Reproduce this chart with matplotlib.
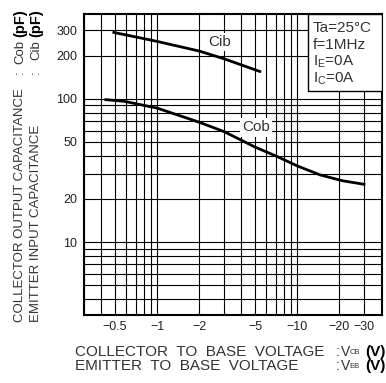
import matplotlib
matplotlib.use("Agg")
import matplotlib.pyplot as plt
from matplotlib.patches import Rectangle
from matplotlib.ticker import FixedLocator, LogLocator, NullFormatter

plt.rcParams['font.family'] = ['Liberation Sans', 'DejaVu Sans']

# capacitance curves, |V| in volts, C in pF
cib_v = [0.49, 0.7, 1.0, 2.0, 3.0, 5.4]
cib_c = [290, 270, 251, 215, 190, 155]
cob_v = [0.43, 0.58, 1.0, 2.0, 3.0, 5.0, 7.2, 10, 14.6, 21, 30]
cob_c = [98.5, 96, 86, 68.5, 59, 46, 39.5, 34, 29.4, 26.8, 25.3]

x_ticks = [0.5, 1, 2, 5, 10, 20, 30]
x_ticklabels = ['\u22120.5', '\u22121', '\u22122', '\u22125', '\u221210', '\u221220', '\u221230']
y_ticks = [10, 20, 50, 100, 200, 300]
y_ticklabels = ['10', '20', '50', '100', '200', '300']

cond_lines = ['Ta=25\u00b0C', 'f=1MHz', r'I$_\mathregular{E}$=0A', r'I$_\mathregular{C}$=0A']

W, H = 386, 383
fig = plt.figure(figsize=(W / 100, H / 100), dpi=100)
TXT = '#333333'


def fx(x):
    return x / W


def fy(y):
    return 1 - y / H


ax = fig.add_axes([fx(84), fy(315), fx(381.5) - fx(84), fy(14) - fy(315)])
ax.set_xscale('log')
ax.set_yscale('log')
ax.set_xlim(0.3, 40)
ax.set_ylim(3.1, 390)

ax.xaxis.set_major_locator(FixedLocator(x_ticks))
ax.set_xticklabels(x_ticklabels)
ax.yaxis.set_major_locator(FixedLocator(y_ticks))
ax.set_yticklabels(y_ticklabels)
ax.xaxis.set_minor_locator(LogLocator(base=10, subs=range(1, 10), numticks=20))
ax.yaxis.set_minor_locator(LogLocator(base=10, subs=range(1, 10), numticks=20))
ax.xaxis.set_minor_formatter(NullFormatter())
ax.yaxis.set_minor_formatter(NullFormatter())
ax.tick_params(which='both', length=0, labelsize=9, labelcolor='#222222')
ax.tick_params(axis='x', pad=4)
ax.tick_params(axis='y', pad=5)
ax.grid(which='both', color='black', lw=0.8)
ax.set_axisbelow(True)
for s in ax.spines.values():
    s.set_linewidth(1.5)

ax.plot(cib_v, cib_c, color='black', lw=2, zorder=3)
ax.plot(cob_v, cob_c, color='black', lw=2, zorder=3)

box = dict(facecolor='white', edgecolor='none', pad=1.5)
ax.text(2.8, 250, 'Cib', fontsize=11, color=TXT, ha='center', va='center', bbox=box, zorder=4)
ax.text(5.1, 63, 'Cob', fontsize=11, color=TXT, ha='center', va='center', bbox=box, zorder=4)

# condition box in the upper right corner
ax.add_patch(Rectangle((fx(308), fy(91)), fx(381.5) - fx(308), fy(14) - fy(91),
                       transform=fig.transFigure, facecolor='white',
                       edgecolor='black', lw=1, zorder=5))
for i, s in enumerate(cond_lines):
    fig.text(fx(313), fy(28 + i * 17), s, fontsize=11, color=TXT,
             ha='left', va='center', zorder=6)

# x axis title, two lines with aligned colons
xl = [('COLLECTOR  TO  BASE  VOLTAGE', 'CB', 352), ('EMITTER  TO  BASE  VOLTAGE', 'EB', 366)]
for main, sub, y in xl:
    fig.text(fx(75), fy(y), main, fontsize=11, color=TXT, ha='left', va='center')
    fig.text(fx(336), fy(y), ':', fontsize=10, color=TXT, ha='left', va='center')
    fig.text(fx(341), fy(y), 'V', fontsize=10, color=TXT, ha='left', va='center')
    fig.text(fx(349.5), fy(y + 1), sub, fontsize=5.5, color=TXT, ha='left', va='center')
    fig.text(fx(386), fy(y), '(V)', fontsize=11, fontweight='bold', color='black',
             ha='right', va='center')

# y axis title, two rotated lines with aligned colons
yl = [('COLLECTOR OUTPUT CAPACITANCE', 'Cob', 20, 64), ('EMITTER INPUT CAPACITANCE', 'Cib', 36, 60)]
for main, sym, x, ysym in yl:
    fig.text(fx(x), fy(322), main, fontsize=9.5, color=TXT, rotation=90,
             rotation_mode='anchor', ha='left', va='center')
    fig.text(fx(x), fy(72), ':', fontsize=9.5, color=TXT, rotation=90,
             rotation_mode='anchor', ha='center', va='center')
    fig.text(fx(x), fy(ysym), sym, fontsize=9.5, color=TXT, rotation=90,
             rotation_mode='anchor', ha='left', va='center')
    fig.text(fx(x), fy(37), '(pF)', fontsize=10.5, fontweight='bold', color='black',
             rotation=90, rotation_mode='anchor', ha='left', va='center')

fig.savefig('out.png', dpi=100)
